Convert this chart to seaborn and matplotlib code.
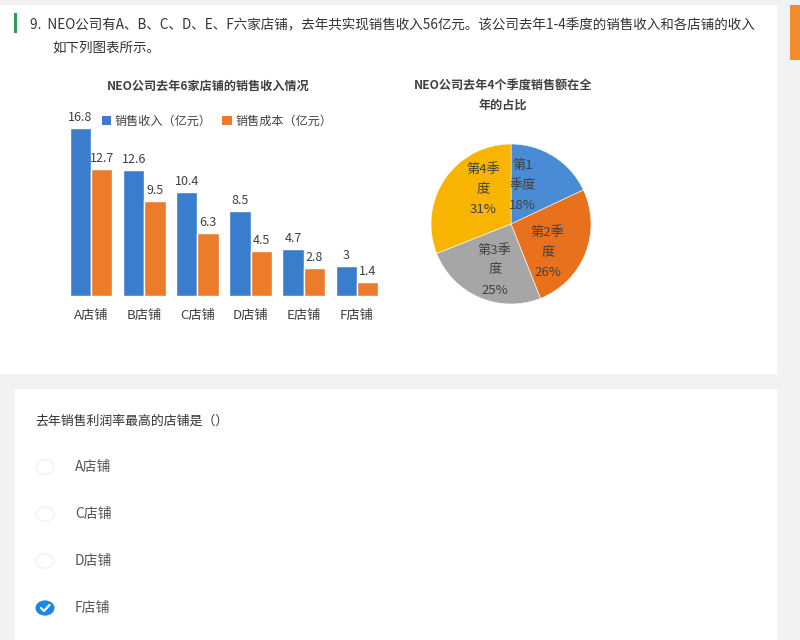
import numpy as np
import pandas as pd
import matplotlib
matplotlib.use("Agg")
import matplotlib.pyplot as plt
from matplotlib.patches import Rectangle, Circle, Patch
from matplotlib.lines import Line2D
import seaborn as sns

# ---- data ----
stores = ["A店铺", "B店铺", "C店铺", "D店铺", "E店铺", "F店铺"]
revenue = [16.8, 12.6, 10.4, 8.5, 4.7, 3.0]
cost = [12.7, 9.5, 6.3, 4.5, 2.8, 1.4]
series_names = ["销售收入（亿元）", "销售成本（亿元）"]

quarters = ["第1\n季度", "第2季\n度", "第3季\n度", "第4季\n度"]
quarter_share = [18, 26, 25, 31]

question = "9.  NEO公司有A、B、C、D、E、F六家店铺，去年共实现销售收入56亿元。该公司去年1-4季度的销售收入和各店铺的收入"
question_line2 = "如下列图表所示。"
bar_title = "NEO公司去年6家店铺的销售收入情况"
pie_title = "NEO公司去年4个季度销售额在全\n年的占比"
sub_question = "去年销售利润率最高的店铺是（）"
options = ["A店铺", "C店铺", "D店铺", "F店铺"]
checked = [False, False, False, True]

# ---- style ----
sns.set_theme(style="white")
plt.rcParams["font.family"] = ["Noto Sans CJK SC", "DejaVu Sans"]
plt.rcParams["axes.unicode_minus"] = False

W, H = 800, 640
fig = plt.figure(figsize=(W / 100, H / 100), dpi=100)
fig.patch.set_facecolor("#f2f2f2")


def fx(x):
    return x / W


def fy(y):
    return 1 - y / H


def rect(x0, y0, x1, y1, color, z=0):
    fig.add_artist(Rectangle((fx(x0), fy(y1)), fx(x1) - fx(x0), (y1 - y0) / H,
                             transform=fig.transFigure, facecolor=color,
                             edgecolor="none", zorder=z))


# page cards
rect(0, 5, 777, 374, "white")
rect(15, 389, 777, 640, "white")
rect(790, 5, 800, 60, "#f28c2c")
rect(14, 13, 17, 33, "#2e9e5b", z=1)

fig.text(fx(30), fy(25), question, fontsize=9.75, color="#333333", va="center", ha="left")
fig.text(fx(52), fy(48), question_line2, fontsize=9.75, color="#333333", va="center", ha="left")

# ---- bar chart ----
blue_bar = "#3a7dcc"
orange_bar = "#ec7b2b"
df = pd.DataFrame({
    "店铺": stores * 2,
    "指标": [series_names[0]] * len(stores) + [series_names[1]] * len(stores),
    "金额": revenue + cost,
})

ax = fig.add_axes([fx(64.5), fy(296), (383.5 - 64.5) / W, (296 - 96) / H])
ax.set_facecolor("none")
sns.barplot(data=df, x="店铺", y="金额", hue="指标", order=stores,
            hue_order=series_names, palette=[blue_bar, orange_bar],
            width=0.8, saturation=1, ax=ax, legend=False)
for cont in ax.containers:
    ax.bar_label(cont, labels=[f"{v:g}" for v in cont.datavalues],
                 padding=3, fontsize=9, color="#404040")
ax.set_ylim(0, 20)
ax.set_xlim(-0.5, len(stores) - 0.5)
ax.set_xlabel("")
ax.set_ylabel("")
ax.set_yticks([])
ax.tick_params(axis="x", length=0, pad=9, labelsize=9.5, labelcolor="#404040")
for s in ax.spines.values():
    s.set_visible(False)

fig.text(fx(208), fy(86), bar_title, fontsize=8.7, fontweight="bold",
         color="#404040", ha="center", va="center")

handles = [Patch(facecolor=blue_bar, edgecolor="none"),
           Patch(facecolor=orange_bar, edgecolor="none")]
fig.legend(handles, series_names, ncol=2, loc="center left",
           bbox_to_anchor=(fx(91), fy(121)), frameon=False, fontsize=8.7,
           handlelength=0.75, handleheight=0.75, handletextpad=0.3,
           columnspacing=0.9, labelcolor="#404040")

# ---- pie chart ----
pie_colors = ["#4a8bd6", "#e9711d", "#a6a6a6", "#f7b400"]
# label placement inside each wedge: angular shift (deg) and radius fraction
label_shift = [16, -16, 4, -17]
label_radius = [0.5, 0.58, 0.61, 0.55]

pax = fig.add_axes([fx(431), fy(304), 160 / W, 160 / H])
wedges, _ = pax.pie(quarter_share, colors=pie_colors, startangle=90,
                    counterclock=False,
                    wedgeprops=dict(edgecolor="white", linewidth=0.4))
for w, q, v, da, r in zip(wedges, quarters, quarter_share, label_shift, label_radius):
    ang = np.deg2rad((w.theta1 + w.theta2) / 2 + da)
    pax.text(r * np.cos(ang), r * np.sin(ang), f"{q}\n{v}%", fontsize=9.5,
             color="#404040", ha="center", va="center", linespacing=1.7)
pax.set_xlim(-1, 1)
pax.set_ylim(-1, 1)
pax.set_aspect("equal")
pax.axis("off")

fig.text(fx(503), fy(95), pie_title, fontsize=8.7, fontweight="bold",
         color="#404040", ha="center", va="center", linespacing=1.7)

# ---- answer options ----
fig.text(fx(35), fy(421), sub_question, fontsize=9.3, color="#333333", va="center", ha="left")
opt_y = [467, 514, 561, 608]
for label, y, on in zip(options, opt_y, checked):
    if on:
        fig.add_artist(Circle((fx(45), fy(y)), 9.5 / W, transform=fig.transFigure,
                              facecolor="#1b86ea", edgecolor="none", zorder=3))
        fig.add_artist(Line2D([fx(41), fx(44), fx(49.5)], [fy(y), fy(y + 3), fy(y - 3)],
                              transform=fig.transFigure, color="white", lw=1.6,
                              solid_capstyle="round", solid_joinstyle="round", zorder=4))
    else:
        fig.add_artist(Circle((fx(45), fy(y)), 9 / W, transform=fig.transFigure,
                              facecolor="white", edgecolor="#f1f1f1", lw=1.0, zorder=3))
    fig.text(fx(75), fy(y), label, fontsize=10, color="#555555", va="center", ha="left")

fig.savefig("out.png", dpi=100)
